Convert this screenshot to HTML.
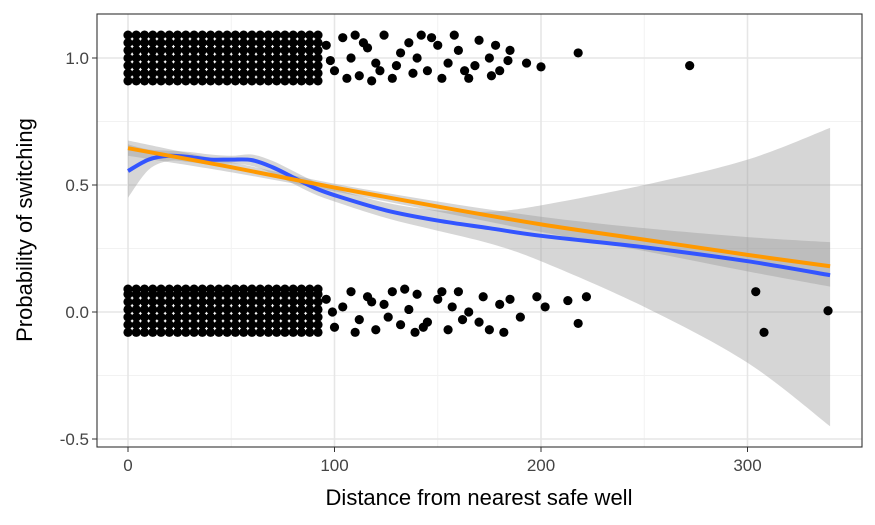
<!DOCTYPE html>
<html><head><meta charset="utf-8">
<style>
body{margin:0;background:#fff;}
svg{display:block;font-family:"Liberation Sans",sans-serif;}
</style></head>
<body>
<svg id="chart" width="875" height="525">
<rect x="97" y="14" width="765" height="433" fill="#fff"/>
<g id="grid"></g>
<g id="bands"></g>
<g id="pts"></g>
<g id="lines"></g>
<rect x="97" y="14" width="765" height="433" fill="none" stroke="#333" stroke-width="1.1"/>
<g id="axes"></g>
<text x="479" y="505" text-anchor="middle" font-size="22" fill="#000">Distance from nearest safe well</text>
<text transform="translate(32,230) rotate(-90)" text-anchor="middle" font-size="22" fill="#000">Probability of switching</text>
</svg>
<script>
const xTicks=[0,100,200,300];
const yTicks=[-0.5,0,0.5,1.0];
const yTickLabels=["-0.5","0.0","0.5","1.0"];
const denseX=[0,4,8,12,16,20,24,28,32,36,40,44,48,52,56,60,64,68,72,76,80,84,88,92];
const jitterTop=[0.91,0.94,0.97,1.0,1.03,1.06,1.09];
const jitterBot=[-0.08,-0.05,-0.02,0.01,0.04,0.07,0.09];
const sparseTopX=[96,100,104,108,112,116,120,124,128,132,136,140,145,150,152,155,160,163,165,170,175,178,180,185,193,200,218,272,110,118,130,142,98,106,114,122,138,147,158,168,176,184];
const sparseTopY=[1.05,0.95,1.08,1.0,0.93,1.04,0.98,1.09,0.92,1.02,1.06,1.0,0.95,1.05,0.92,0.98,1.03,0.95,0.92,1.07,1.0,1.05,0.95,1.03,0.98,0.965,1.02,0.97,1.09,0.91,0.97,1.09,0.99,0.92,1.06,0.95,0.94,1.08,1.09,0.97,0.93,0.99];
const sparseBotX=[96,100,104,108,112,116,120,124,128,132,136,140,145,150,155,160,165,170,175,180,185,190,198,202,213,218,222,304,308,339,110,126,134,143,152,162,172,182,99,118,139,157];
const sparseBotY=[0.05,-0.06,0.02,0.08,-0.03,0.06,-0.07,0.03,0.08,-0.05,0.01,0.07,-0.04,0.05,-0.07,0.08,0.0,-0.04,-0.07,0.03,0.05,-0.02,0.06,0.02,0.045,-0.045,0.06,0.08,-0.08,0.005,-0.08,-0.02,0.09,-0.06,0.08,-0.03,0.06,-0.08,0.0,0.04,-0.08,0.02];
const loessX=[0,10,20,30,40,50,60,70,80,90,100,125,150,175,200,250,300,340];
const loessY=[0.555,0.6,0.615,0.61,0.6,0.6,0.598,0.57,0.53,0.49,0.46,0.40,0.36,0.33,0.30,0.255,0.2,0.145];
const loessHi=[0.66,0.64,0.635,0.63,0.62,0.615,0.62,0.595,0.555,0.515,0.485,0.43,0.4,0.395,0.42,0.5,0.6,0.725];
const loessLo=[0.45,0.56,0.595,0.59,0.58,0.585,0.575,0.545,0.505,0.465,0.435,0.37,0.32,0.27,0.2,0.02,-0.2,-0.45];
const logitX=[0,50,100,150,200,250,300,340];
const logitY=[0.645,0.57,0.49,0.415,0.345,0.285,0.225,0.18];
const logitHi=[0.675,0.59,0.505,0.435,0.375,0.33,0.295,0.275];
const logitLo=[0.615,0.55,0.475,0.395,0.315,0.24,0.16,0.1];

const NS="http://www.w3.org/2000/svg";
const X=v=>128+v*2.065;
const Y=v=>312-v*254;
function mk(tag,attrs,parent){const e=document.createElementNS(NS,tag);for(const k in attrs)e.setAttribute(k,attrs[k]);document.getElementById(parent).appendChild(e);return e;}
function smooth(pts,start){let d=start?('M'+pts[0][0]+','+pts[0][1]):('L'+pts[0][0]+','+pts[0][1]);for(let i=0;i<pts.length-1;i++){const p0=pts[Math.max(0,i-1)],p1=pts[i],p2=pts[i+1],p3=pts[Math.min(pts.length-1,i+2)];const c1=[p1[0]+(p2[0]-p0[0])/6,p1[1]+(p2[1]-p0[1])/6],c2=[p2[0]-(p3[0]-p1[0])/6,p2[1]-(p3[1]-p1[1])/6];d+='C'+c1+' '+c2+' '+p2;}return d;}
[-0.25,0.25,0.75].forEach(v=>{const l=mk('line',{x1:97,x2:862,y1:Y(v),y2:Y(v),stroke:'#f2f2f2','stroke-width':1},'grid');});
[50,150,250].forEach(v=>{const l=mk('line',{x1:X(v),x2:X(v),y1:14,y2:447,stroke:'#f2f2f2','stroke-width':1},'grid');});
yTicks.forEach((v,i)=>{const l=mk('line',{x1:97,x2:862,y1:Y(v),y2:Y(v),stroke:'#e6e6e6','stroke-width':1.6},'grid');
 const t=mk('line',{x1:92,x2:97,y1:Y(v),y2:Y(v),stroke:'#333'},'axes');
 const tx=mk('text',{x:89,y:Y(v)+6,'text-anchor':'end','font-size':17,fill:'#444'},'axes');tx.textContent=yTickLabels[i];});
xTicks.forEach(v=>{const l=mk('line',{x1:X(v),x2:X(v),y1:14,y2:447,stroke:'#e6e6e6','stroke-width':1.6},'grid');
 const t=mk('line',{x1:X(v),x2:X(v),y1:447,y2:452,stroke:'#333'},'axes');
 const tx=mk('text',{x:X(v),y:471,'text-anchor':'middle','font-size':17,fill:'#444'},'axes');tx.textContent=v;});
function band(xs,hi,lo,name){const up=xs.map((x,i)=>[X(x),Y(hi[i])]);const dn=xs.map((x,i)=>[X(x),Y(lo[i])]).reverse();const d=smooth(up,true)+smooth(dn,false)+'Z';const p=mk('path',{d:d,fill:'#999','fill-opacity':0.4},'bands');}
band(loessX,loessHi,loessLo,'loess-ci-band');
band(logitX,logitHi,logitLo,'logistic-ci-band');
function dot(x,y){const c=mk('circle',{cx:X(x),cy:Y(y),r:4.6,fill:'#000'},'pts');}
denseX.forEach(x=>{jitterTop.forEach(j=>dot(x,j));jitterBot.forEach(j=>dot(x,j));});
sparseTopX.forEach((x,i)=>dot(x,sparseTopY[i]));
sparseBotX.forEach((x,i)=>dot(x,sparseBotY[i]));
function line(xs,ys,col,name){const p=mk('path',{d:smooth(xs.map((x,i)=>[X(x),Y(ys[i])]),true),fill:'none',stroke:col,'stroke-width':4,'stroke-linejoin':'round'},'lines');}
line(loessX,loessY,'#3355ff','loess-line');
line(logitX,logitY,'#ff9900','logistic-line');
</script>
</body></html>
